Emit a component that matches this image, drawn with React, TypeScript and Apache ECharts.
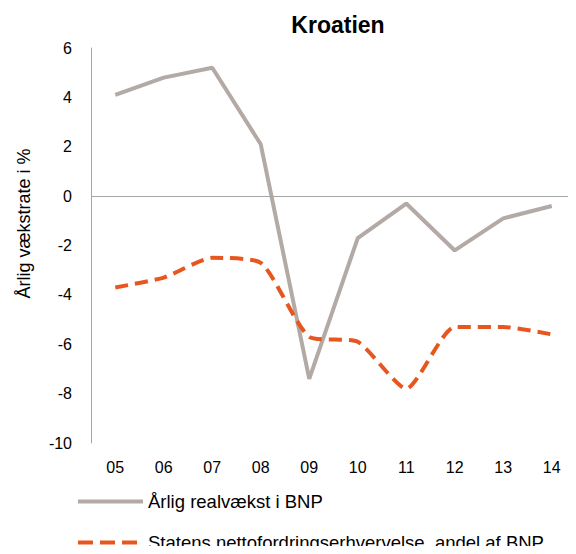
import React, { useEffect, useRef } from "react";
import * as echarts from "echarts";

const categories = ["05", "06", "07", "08", "09", "10", "11", "12", "13", "14"];
const growth = [4.1, 4.8, 5.2, 2.1, -7.4, -1.7, -0.3, -2.2, -0.9, -0.4];
const netLending = [-3.7, -3.3, -2.5, -2.7, -5.7, -5.9, -7.8, -5.3, -5.3, -5.6];
const growthName = "Årlig realvækst i BNP";
const lendingName = "Statens nettofordringserhvervelse, andel af BNP";
const FONT = "Liberation Sans, Arial, sans-serif";
const GRAY = "#b4aaa5";
const ORANGE = "#e8561f";

const legendBase = {
  orient: "horizontal",
  left: 78,
  padding: 0,
  itemHeight: 4,
  textStyle: { fontFamily: FONT, fontSize: 18.5, color: "#000" },
};

export default function App() {
  const ref = useRef<HTMLDivElement>(null);
  useEffect(() => {
    if (!ref.current) return;
    const chart = echarts.init(ref.current, null, { renderer: "svg" });
    chart.setOption({
      animation: false,
      textStyle: { fontFamily: FONT },
      title: {
        text: "Kroatien",
        left: 333,
        top: 8,
        textAlign: "center",
        textStyle: { fontFamily: FONT, fontSize: 23, fontWeight: "bold", color: "#000" },
      },
      grid: { left: 91, right: -11, top: 48, bottom: 111 },
      legend: [
        {
          ...legendBase,
          top: 492,
          itemWidth: 65,
          data: [{ name: growthName, icon: "path://M0 0H65V4H0Z" }],
        },
        {
          ...legendBase,
          top: 533,
          itemWidth: 59,
          textStyle: { ...legendBase.textStyle, padding: [0, 0, 0, 6] },
          data: [{ name: lendingName, icon: "path://M0 0H15V4H0ZM22 0H37V4H22ZM44 0H59V4H44Z" }],
        },
      ],
      xAxis: {
        type: "category",
        data: categories,
        boundaryGap: true,
        axisLine: { show: false },
        axisTick: { show: false },
        axisLabel: { fontFamily: FONT, fontSize: 16, color: "#000", margin: 16 },
      },
      yAxis: {
        type: "value",
        min: -10,
        max: 6,
        interval: 2,
        name: "Årlig vækstrate i %",
        nameLocation: "middle",
        nameGap: 58,
        nameRotate: 90,
        nameTextStyle: { fontFamily: FONT, fontSize: 18, color: "#000", padding: [0, 0, 0, 44] },
        axisLine: { show: true, lineStyle: { color: "#a6a6a6", width: 1 } },
        axisTick: { show: false },
        splitLine: { show: false },
        axisLabel: { fontFamily: FONT, fontSize: 16, color: "#000", margin: 19 },
      },
      series: [
        {
          name: growthName,
          type: "line",
          data: growth,
          symbol: "none",
          lineStyle: { color: GRAY, width: 4 },
          itemStyle: { color: GRAY },
          markLine: {
            silent: true,
            symbol: "none",
            label: { show: false },
            lineStyle: { color: "#a6a6a6", width: 1, type: "solid" },
            data: [{ yAxis: 0 }],
          },
          z: 3,
        },
        {
          name: lendingName,
          type: "line",
          data: netLending,
          symbol: "none",
          smooth: 0.2,
          lineStyle: { color: ORANGE, width: 4, type: [13, 7] },
          itemStyle: { color: ORANGE },
          z: 4,
        },
      ],
    });
    return () => chart.dispose();
  }, []);
  return <div ref={ref} style={{ width: 576, height: 554, margin: -8 }} />;
}
